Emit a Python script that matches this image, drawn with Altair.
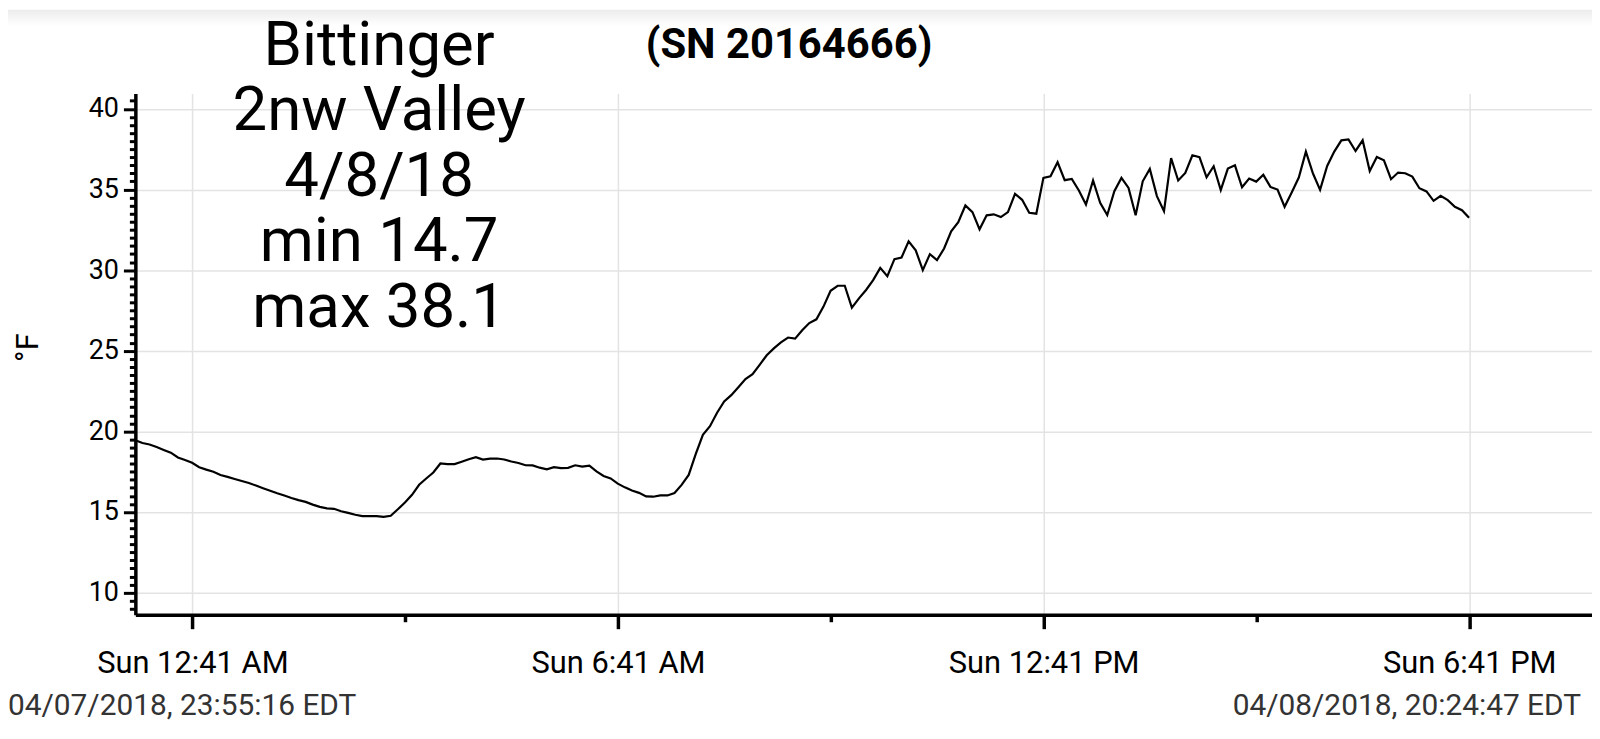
import altair as alt
import pandas as pd

# ---------------- data ----------------
first_sample = "2018-04-07T23:52:48"
end_time_label = "04/08/2018, 20:24:47 EDT"
start_time_label = "04/07/2018, 23:55:16 EDT"
title_lines = ["Bittinger", "2nw Valley", "4/8/18", "min 14.7", "max 38.1"]
serial_label = "(SN 20164666)"
y_title = "°F"

temps = [
    19.45, 19.28, 19.19, 19.03, 18.85, 18.68, 18.38, 18.23, 18.05, 17.78,
    17.63, 17.50, 17.30, 17.18, 17.05, 16.92, 16.80, 16.64, 16.48, 16.32,
    16.16, 16.02, 15.87, 15.74, 15.63, 15.46, 15.32, 15.23, 15.20, 15.05,
    14.95, 14.83, 14.75, 14.75, 14.75, 14.70, 14.77, 15.17, 15.59, 16.07,
    16.69, 17.08, 17.45, 18.01, 17.97, 17.97, 18.12, 18.27, 18.40, 18.25,
    18.31, 18.32, 18.26, 18.13, 18.04, 17.90, 17.89, 17.75, 17.65, 17.78,
    17.72, 17.74, 17.90, 17.82, 17.88, 17.52, 17.24, 17.08, 16.76, 16.53,
    16.33, 16.19, 15.97, 15.95, 16.03, 16.03, 16.18, 16.68, 17.30, 18.60,
    19.79, 20.32, 21.16, 21.86, 22.25, 22.74, 23.25, 23.55, 24.13, 24.72,
    25.15, 25.52, 25.82, 25.75, 26.27, 26.72, 26.95, 27.74, 28.72, 29.03,
    29.03, 27.67, 28.25, 28.77, 29.38, 30.14, 29.63, 30.68, 30.78, 31.79,
    31.23, 30.00, 30.99, 30.62, 31.34, 32.41, 32.98, 34.01, 33.60, 32.53,
    33.40, 33.46, 33.29, 33.60, 34.73, 34.36, 33.56, 33.50, 35.72, 35.82,
    36.69, 35.58, 35.66, 34.94, 34.07, 35.56, 34.18, 33.42, 34.90, 35.72,
    35.10, 33.40, 35.51, 36.28, 34.59, 33.66, 36.95, 35.56, 36.03, 37.12,
    37.00, 35.76, 36.44, 34.96, 36.30, 36.50, 35.14, 35.68, 35.49, 35.91,
    35.16, 35.00, 33.93, 34.81, 35.74, 37.35, 35.99, 34.98, 36.46, 37.35,
    38.05, 38.10, 37.39, 38.05, 36.15, 37.02, 36.81, 35.64, 36.05, 36.01,
    35.80, 35.08, 34.88, 34.30, 34.61, 34.34, 33.93, 33.72, 33.25,
]
# logger records every 6 minutes
times = pd.date_range(first_sample, periods=len(temps), freq="6min").strftime("%Y-%m-%dT%H:%M:%S")
df = pd.DataFrame({"time": list(times), "temp": temps})

x_tick_hours = [0, 3, 6, 9, 12, 15, 18]
y_tick_values = [9 + 0.5 * i for i in range(64)]
y_domain = [8.63, 40.96]

x_domain = [
    alt.DateTime(year=2018, month=4, date=7, hours=23, minutes=52, seconds=48),
    alt.DateTime(year=2018, month=4, date=8, hours=20, minutes=24, seconds=47),
]
x_values = [alt.DateTime(year=2018, month=4, date=8, hours=h, minutes=41) for h in x_tick_hours]

FONT = "Roboto"
x_major = "hours(datum.value) % 6 === 0"
y_major = "datum.value % 5 === 0"

x_axis = alt.Axis(
    values=x_values,
    format="%a %-I:%M %p",
    labelExpr=f"{x_major} ? datum.label : ''",
    tickSize={"condition": {"test": x_major, "value": 14}, "value": 7},
    tickWidth=3.5,
    tickColor="black",
    domainWidth=3.5,
    domainColor="black",
    grid=True,
    gridColor="#e3e3e3",
    gridWidth=1.5,
    gridOpacity={"condition": {"test": x_major, "value": 1}, "value": 0},
    labelFont=FONT,
    labelFontSize=31,
    labelColor="black",
    labelPadding=20,
    labelLimit=600,
    labelFlush=False,
    labelOverlap=False,
    title=None,
)

y_axis = alt.Axis(
    values=y_tick_values,
    format=".0f",
    labelExpr=f"{y_major} ? datum.label : ''",
    tickSize={"condition": {"test": y_major, "value": 12}, "value": 6},
    tickWidth=3,
    tickColor="black",
    domainWidth=3.5,
    domainColor="black",
    grid=True,
    gridColor="#e3e3e3",
    gridWidth=1.5,
    gridOpacity={"condition": {"test": y_major, "value": 1}, "value": 0},
    labelFont=FONT,
    labelFontSize=27,
    labelColor="black",
    labelPadding=5,
    labelOverlap=False,
    title=y_title,
    titleFont=FONT,
    titleFontSize=31,
    titleFontWeight="normal",
    titleColor="black",
    titleAngle=270,
    titleX=-98,
    titleY=255,
    titleBaseline="alphabetic",
)

line = alt.Chart(df).mark_line(color="black", strokeWidth=2.2).encode(
    x=alt.X("time:T", scale=alt.Scale(domain=x_domain, nice=False), axis=x_axis),
    y=alt.Y("temp:Q", scale=alt.Scale(domain=y_domain, nice=False, zero=False), axis=y_axis),
)

one = pd.DataFrame({"k": [0]})

top_band = alt.Chart(one).mark_rect(
    color=alt.Gradient(
        gradient="linear", x1=0, y1=0, x2=0, y2=1,
        stops=[alt.GradientStop(color="#ececec", offset=0), alt.GradientStop(color="#ffffff", offset=1)],
    )
).encode(x=alt.value(-128), x2=alt.value(1464), y=alt.value(-84), y2=alt.value(-68))

title_block = alt.Chart(one).mark_text(
    text=title_lines, font=FONT, fontSize=62, lineHeight=65.8,
    align="center", baseline="alphabetic", color="black",
).encode(x=alt.value(245), y=alt.value(-28.5))

serial = alt.Chart(one).mark_text(
    text=serial_label, font=FONT, fontSize=42, fontWeight="bold",
    align="center", baseline="alphabetic", color="black",
).encode(x=alt.value(657), y=alt.value(-36))

left_stamp = alt.Chart(one).mark_text(
    text=start_time_label, font=FONT, fontSize=30,
    align="left", baseline="alphabetic", color="#333333",
).encode(x=alt.value(-128), y=alt.value(625))

right_stamp = alt.Chart(one).mark_text(
    text=end_time_label, font=FONT, fontSize=30,
    align="right", baseline="alphabetic", color="#333333",
).encode(x=alt.value(1453), y=alt.value(625))

chart = alt.layer(top_band, line, title_block, serial, left_stamp, right_stamp).properties(
    width=1464,
    height=524,
    padding={"left": 128, "top": 84, "right": 0, "bottom": 112},
    autosize=alt.AutoSizeParams(type="none"),
    background="white",
).configure_view(stroke=None)

chart.save("out.html", embed_options={"renderer": "svg", "actions": False})
